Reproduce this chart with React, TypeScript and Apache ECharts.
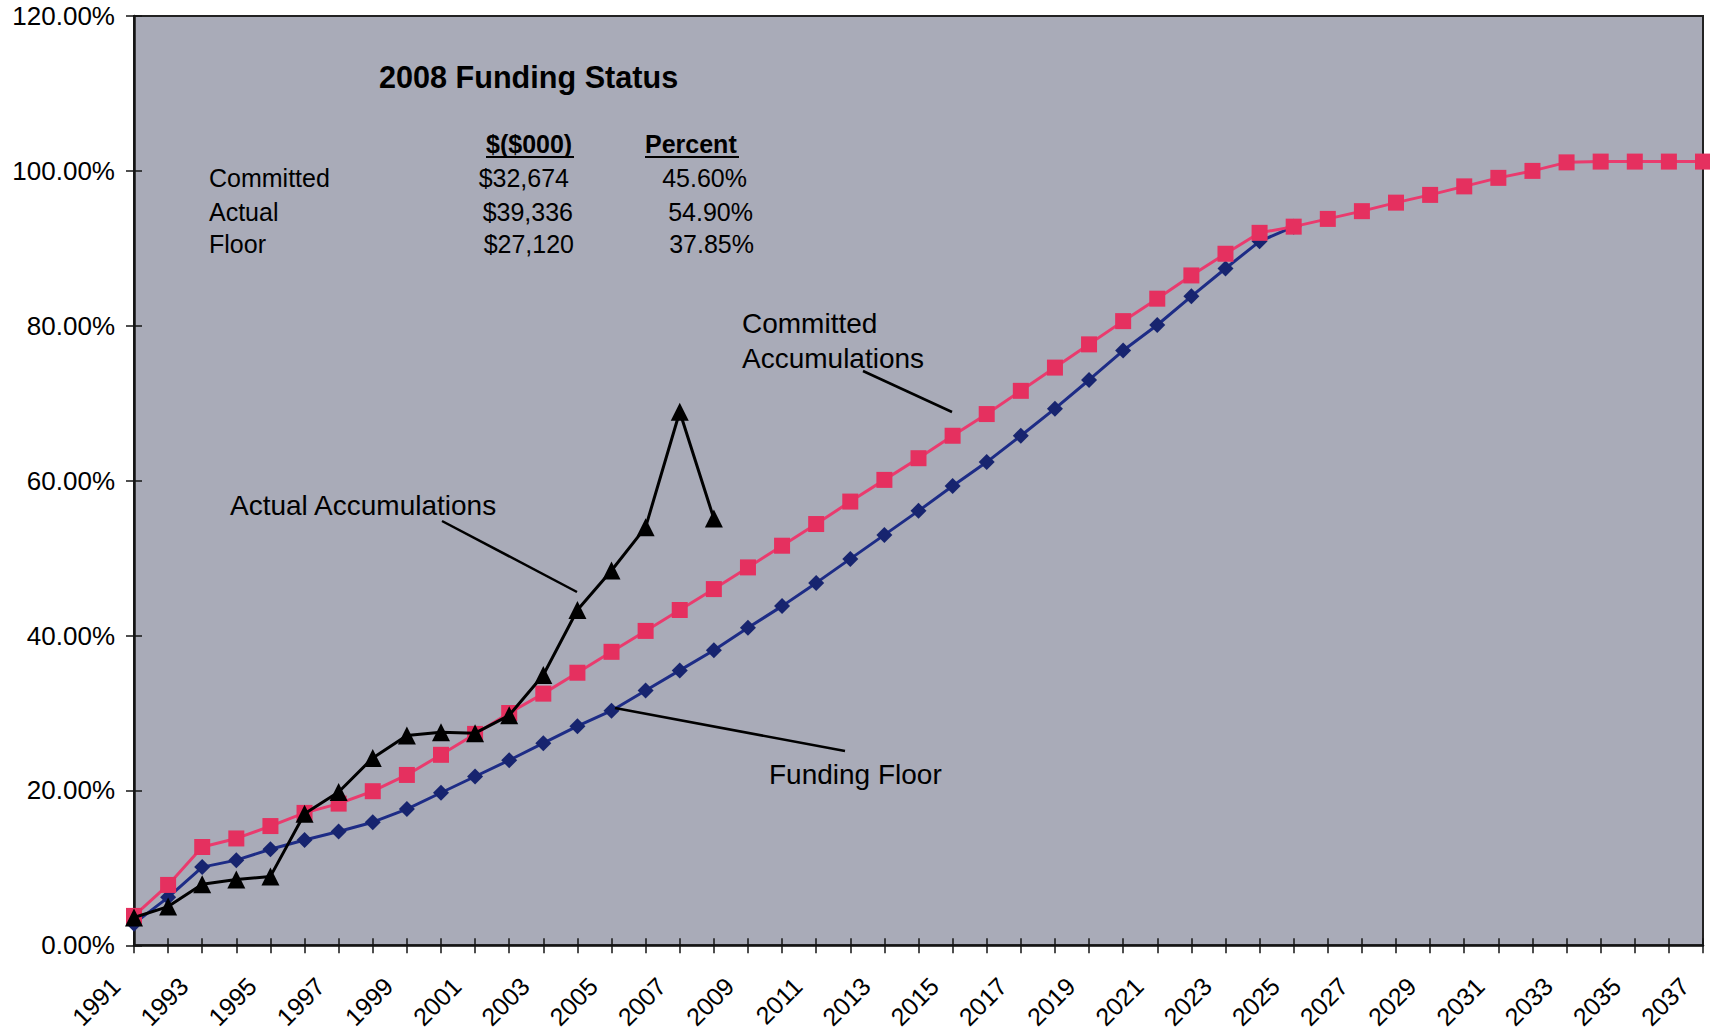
import React, { useEffect, useRef } from "react";
import * as echarts from "echarts";

const years = [
  "1991", "1992", "1993", "1994", "1995", "1996", "1997", "1998", "1999", "2000",
  "2001", "2002", "2003", "2004", "2005", "2006", "2007", "2008", "2009", "2010",
  "2011", "2012", "2013", "2014", "2015", "2016", "2017", "2018", "2019", "2020",
  "2021", "2022", "2023", "2024", "2025", "2026", "2027", "2028", "2029", "2030",
  "2031", "2032", "2033", "2034", "2035", "2036", "2037",
];

const committed = [
  3.8, 7.8, 12.7, 13.8, 15.4, 17.1, 18.3, 19.9, 22.0, 24.6,
  27.3, 30.0, 32.5, 35.2, 37.9, 40.6, 43.3, 46.0, 48.8, 51.6,
  54.4, 57.3, 60.1, 62.9, 65.8, 68.6, 71.6, 74.6, 77.6, 80.6,
  83.5, 86.5, 89.3, 92.0, 92.8, 93.8, 94.8, 95.9, 96.9, 98.0,
  99.1, 100.0, 101.1, 101.2, 101.2, 101.2, 101.2,
];

const floor = [
  2.8, 6.2, 10.1, 11.0, 12.4, 13.6, 14.7, 15.9, 17.6, 19.7,
  21.8, 23.9, 26.1, 28.3, 30.3, 32.9, 35.5, 38.1, 41.0, 43.8,
  46.8, 49.9, 53.0, 56.1, 59.3, 62.4, 65.8, 69.3, 73.0, 76.8,
  80.1, 83.8, 87.4, 90.9, 92.8, null, null, null, null, null,
  null, null, null, null, null, null, null,
];

const actual = [
  3.6, 5.0, 7.9, 8.5, 8.9, 17.0, 19.8, 24.2, 27.1, 27.5,
  27.4, 29.7, 34.9, 43.3, 48.4, 54.0, 68.9, 55.1, null, null,
  null, null, null, null, null, null, null, null, null, null,
  null, null, null, null, null, null, null, null, null, null,
  null, null, null, null, null, null, null,
];

const tableTitle = "2008 Funding Status";
const tableHeaders = ["$($000)", "Percent"];
const tableRows = ["Committed", "Actual", "Floor"];
const tableDollars = ["$32,674", "$39,336", "$27,120"];
const tablePercents = ["45.60%", "54.90%", "37.85%"];

const FONT = "'Liberation Sans', Arial, Helvetica, sans-serif";

function txt(text: string, x: number, y: number, size: number, align = "left", bold = false) {
  return {
    type: "text",
    x,
    y,
    z: 100,
    silent: true,
    style: {
      text,
      fill: "#000",
      font: `${bold ? "bold " : ""}${size}px ${FONT}`,
      align,
      verticalAlign: "middle",
      textAlign: align,
      textVerticalAlign: "middle",
    },
  };
}

function ln(x1: number, y1: number, x2: number, y2: number, w = 2.5) {
  return {
    type: "line",
    z: 100,
    silent: true,
    shape: { x1, y1, x2, y2 },
    style: { stroke: "#000", lineWidth: w },
  };
}

export default function App() {
  const ref = useRef<HTMLDivElement>(null);
  useEffect(() => {
    const chart = echarts.init(ref.current!, null, { renderer: "svg" });
    const rowY = [178, 212, 244];
    const dollarRight = [569, 573, 574];
    const pctRight = [747, 753, 754];
    const graphic: any[] = [
      txt(tableTitle, 379, 77, 30.6, "left", true),
      txt(tableHeaders[0], 486, 144, 25, "left", true),
      txt(tableHeaders[1], 645, 144, 25, "left", true),
      ln(486, 157, 574, 157, 2),
      ln(645, 157, 739, 157, 2),
      txt("Committed", 742, 323, 28),
      txt("Accumulations", 742, 358, 28),
      ln(863, 371, 952, 412),
      txt("Actual Accumulations", 230, 505, 28),
      ln(442, 521, 577, 592),
      txt("Funding Floor", 769, 774, 28),
      ln(615, 708, 845, 751),
    ];
    tableRows.forEach((r, i) => {
      graphic.push(txt(r, 209, rowY[i], 25));
      graphic.push(txt(tableDollars[i], dollarRight[i], rowY[i], 25, "right"));
      graphic.push(txt(tablePercents[i], pctRight[i], rowY[i], 25, "right"));
    });

    const axisColor = "#141414";
    chart.setOption({
      animation: false,
      backgroundColor: "#ffffff",
      grid: {
        left: 134,
        top: 16,
        width: 1569,
        height: 931,
        show: true,
        backgroundColor: "#a9abb8",
        borderColor: "#222",
        borderWidth: 2,
      },
      xAxis: [
        {
          type: "category",
          data: years,
          boundaryGap: false,
          axisLine: { show: true, lineStyle: { color: axisColor, width: 2.5 } },
          axisTick: { show: true, interval: 0, length: 8, lineStyle: { color: axisColor, width: 1.5 } },
          axisLabel: {
            interval: 1,
            rotate: 45,
            fontSize: 25,
            fontFamily: FONT,
            color: "#000",
            margin: 18,
            padding: [0, 26, 0, 0],
          },
          splitLine: { show: false },
        },
        {
          type: "category",
          data: years,
          boundaryGap: false,
          position: "bottom",
          axisLine: { show: false },
          axisTick: { show: true, inside: true, interval: 0, length: 7, lineStyle: { color: axisColor, width: 1.5 } },
          axisLabel: { show: false },
          splitLine: { show: false },
        },
      ],
      yAxis: [
        {
          type: "value",
          min: 0,
          max: 120,
          interval: 20,
          axisLine: { show: true, lineStyle: { color: axisColor, width: 2.5 } },
          axisTick: { show: true, length: 8, lineStyle: { color: axisColor, width: 1.5 } },
          axisLabel: {
            formatter: (v: number) => v.toFixed(2) + "%",
            fontSize: 26,
            fontFamily: FONT,
            color: "#000",
            margin: 19,
          },
          splitLine: { show: false },
        },
        {
          type: "value",
          min: 0,
          max: 120,
          interval: 20,
          position: "left",
          axisLine: { show: false },
          axisTick: { show: true, inside: true, length: 8, lineStyle: { color: axisColor, width: 1.5 } },
          axisLabel: { show: false },
          splitLine: { show: false },
        },
      ],
      series: [
        {
          name: "Funding Floor",
          type: "line",
          data: floor,
          xAxisIndex: 0,
          yAxisIndex: 0,
          symbol: "diamond",
          symbolSize: 16,
          showAllSymbol: true,
          lineStyle: { color: "#1d2c86", width: 3 },
          itemStyle: { color: "#17246f" },
          z: 2,
        },
        {
          name: "Committed Accumulations",
          type: "line",
          data: committed,
          xAxisIndex: 0,
          yAxisIndex: 0,
          symbol: "rect",
          symbolSize: 16,
          showAllSymbol: true,
          lineStyle: { color: "#ea3b6e", width: 3 },
          itemStyle: { color: "#e5305f" },
          z: 3,
        },
        {
          name: "Actual Accumulations",
          type: "line",
          data: actual,
          xAxisIndex: 0,
          yAxisIndex: 0,
          symbol: "triangle",
          symbolSize: 18,
          showAllSymbol: true,
          lineStyle: { color: "#000", width: 3 },
          itemStyle: { color: "#000" },
          z: 4,
        },
      ],
      graphic,
    });
    return () => chart.dispose();
  }, []);
  return (
    <div
      ref={ref}
      style={{ position: "absolute", left: 0, top: 0, width: 1710, height: 1032 }}
    />
  );
}
